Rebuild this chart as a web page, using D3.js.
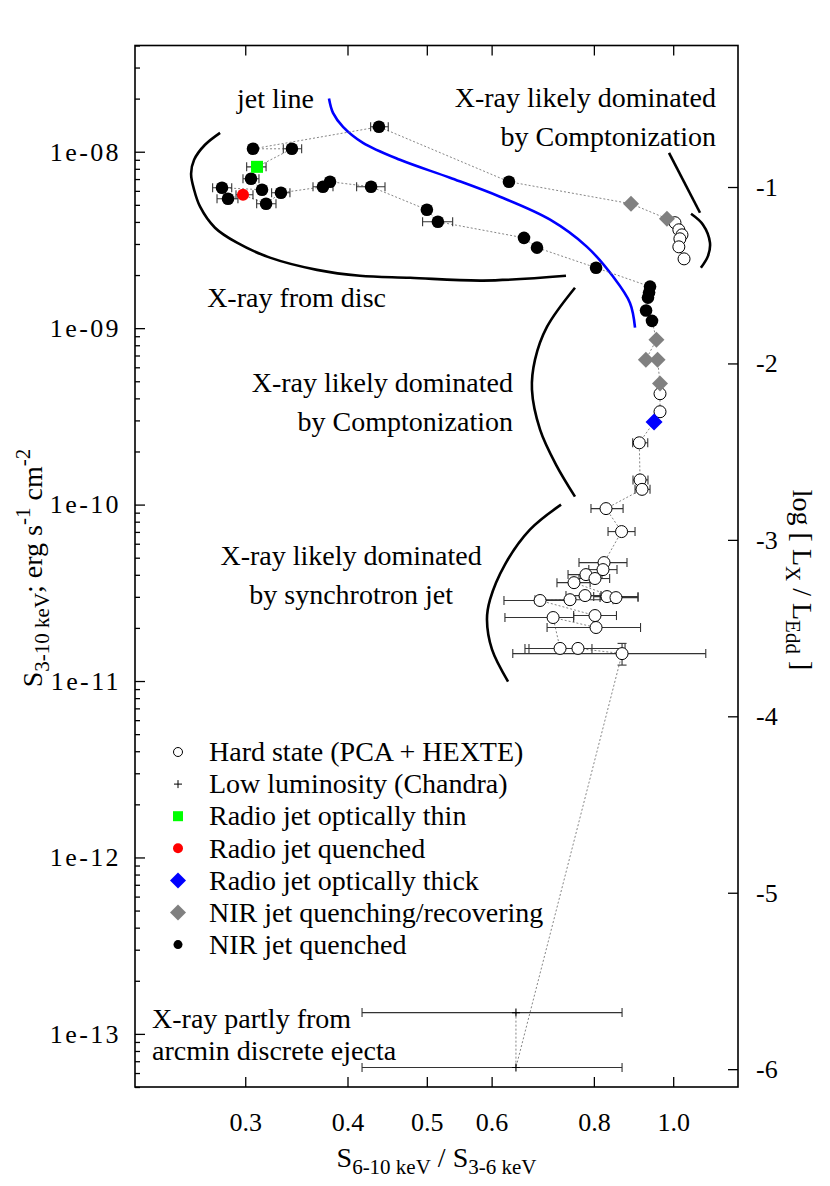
<!DOCTYPE html>
<html><head><meta charset="utf-8">
<script src="https://cdn.jsdelivr.net/npm/d3@7"></script>
<style>
body{margin:0;background:#fff}
svg text{font-family:"Liberation Serif","DejaVu Serif","Noto Serif","Times New Roman",Times,serif !important;fill:#000}
</style>
</head><body>
<svg id="chart" width="830" height="1186"></svg>
<script>
// ---------- data (hardness ratio S6-10/S3-6, flux S3-10 erg/s/cm2, [xlo, xhi], [ylo, yhi]) ----------
const xTicks = [0.3, 0.4, 0.5, 0.6, 0.8, 1.0];
const yTicks = [1e-8, 1e-9, 1e-10, 1e-11, 1e-12, 1e-13];
const y2Ticks = [-1, -2, -3, -4, -5, -6];

const hardState = [
  [1.005,3.96e-9],[1.016,3.61e-9],[1.025,3.38e-9],[1.019,3.21e-9],[1.016,2.89e-9],[1.031,2.47e-9],
  [0.9636,4.25e-10],[0.9636,3.36e-10],
  [0.909,2.24e-10,0.8923,0.9309],[0.911,1.38e-10,0.8931,0.9315],[0.916,1.22e-10,0.8982,0.9369],
  [0.8278,9.49e-11,0.7935,0.8685],[0.8648,7.03e-11,0.8325,0.8982],
  [0.8232,4.69e-11,0.7672,0.8781],[0.8208,4.28e-11,0.7887,0.8538],[0.7824,4.01e-11,0.7439,0.8185],
  [0.8025,3.81e-11,0.7672,0.8363],[0.7565,3.61e-11,0.7211,0.7916],[0.6876,2.86e-11,0.6212,0.7480],
  [0.7480,2.89e-11,0.6779,0.8443],[0.7804,3.05e-11,0.7396,0.8162],[0.8301,3.01e-11,0.7996,0.9058],
  [0.8513,2.97e-11,0.8140,0.9058],[0.7133,2.29e-11,0.6229,0.7558],[0.8025,2.35e-11,0.7558,0.8525],
  [0.8049,2.01e-11,0.7013,0.9122],[0.7274,1.53e-11,0.6590,0.7957],[0.7650,1.53e-11,0.6665,0.8733],
  [0.8660,1.43e-11,0.6368,1.096,1.231e-11,1.634e-11]
];
const lowLum = [[0.6425,1.32e-13,0.4167,0.866],[0.6425,6.45e-14,0.4167,0.866]];
const radioThin = [[0.3101,8.21e-9,0.3012,0.3181]];
const radioQuenched = [[0.2981,5.70e-9,0.2923,0.3066]];
const radioThick = [[0.9476,2.94e-10]];
const nirQuenching = [[0.888,5.07e-9],[0.9826,4.17e-9],[0.954,8.6e-10],[0.926,6.63e-10],[0.957,6.63e-10],[0.9636,4.85e-10]];
const nirQuenched = [
  [0.3066,1.039e-8],[0.3421,1.039e-8,0.3339,0.3516],[0.4370,1.384e-8,0.4269,0.4486],[0.6300,6.76e-9],
  [0.2810,6.25e-9,0.2737,0.2888],[0.2858,5.41e-9,0.2771,0.2939],[0.3049,7.03e-9,0.2981,0.3118],
  [0.3145,6.09e-9],[0.3181,5.07e-9,0.3098,0.3271],[0.3317,5.85e-9,0.3231,0.3402],
  [0.3733,6.33e-9,0.3630,0.3840],[0.3808,6.76e-9],[0.4274,6.33e-9,0.4104,0.4445],[0.5001,4.69e-9],
  [0.5158,4.01e-9,0.4941,0.5377],[0.6572,3.25e-9],[0.6817,2.86e-9],[0.8049,2.20e-9],
  [0.9369,1.72e-9],[0.9344,1.59e-9],[0.9315,1.49e-9],[0.9265,1.26e-9],[0.9421,1.10e-9]
];
// observation sequence (dotted track)
const track = [
  [0.6425,1.32e-13],[0.6425,6.45e-14],[0.8660,1.43e-11],[0.7650,1.53e-11],[0.7274,1.53e-11],
  [0.7133,2.29e-11],[0.8049,2.01e-11],[0.8025,2.35e-11],[0.6876,2.86e-11],[0.7480,2.89e-11],
  [0.7804,3.05e-11],[0.8301,3.01e-11],[0.8513,2.97e-11],[0.7565,3.61e-11],[0.7824,4.01e-11],
  [0.8025,3.81e-11],[0.8208,4.28e-11],[0.8232,4.69e-11],[0.8648,7.03e-11],[0.8278,9.49e-11],
  [0.916,1.22e-10],[0.911,1.38e-10],[0.909,2.24e-10],[0.9476,2.94e-10],[0.9636,3.36e-10],
  [0.9636,4.25e-10],[0.9636,4.85e-10],[0.957,6.63e-10],[0.926,6.63e-10],[0.954,8.6e-10],
  [0.9421,1.10e-9],[0.9265,1.26e-9],[0.9315,1.49e-9],[0.9344,1.59e-9],[0.9369,1.72e-9],
  [0.8049,2.20e-9],[0.6817,2.86e-9],[0.6572,3.25e-9],[0.5158,4.01e-9],[0.5001,4.69e-9],
  [0.4274,6.33e-9],[0.3808,6.76e-9],[0.3733,6.33e-9],[0.3317,5.85e-9],[0.3181,5.07e-9],
  [0.2981,5.70e-9],[0.2858,5.41e-9],[0.2810,6.25e-9],[0.3145,6.09e-9],[0.3049,7.03e-9],
  [0.3101,8.21e-9],[0.3421,1.039e-8],[0.3066,1.039e-8],[0.4370,1.384e-8],[0.6300,6.76e-9],
  [0.888,5.07e-9],[0.9826,4.17e-9],[1.005,3.96e-9],[1.016,3.61e-9],[1.025,3.38e-9],
  [1.019,3.21e-9],[1.016,2.89e-9],[1.031,2.47e-9]
];
// annotation curves
const jetLine = [[0.3797,2.0e-8],[0.3840,1.66e-8],[0.3950,1.384e-8],[0.4178,1.123e-8],[0.4636,9.0e-9],
  [0.5337,7.12e-9],[0.6142,5.56e-9],[0.7073,4.12e-9],[0.7847,2.89e-9],[0.8443,1.96e-9],[0.8855,1.39e-9],[0.8982,1.006e-9]];
const discArc = [[0.2795,1.28e-8],[0.2679,1.095e-8],[0.2598,9.0e-9],[0.2576,7.5e-9],[0.2598,6.09e-9],
  [0.2642,4.88e-9],[0.2755,3.71e-9],[0.2931,3.05e-9],[0.3216,2.51e-9],[0.3671,2.14e-9],[0.4142,1.98e-9],
  [0.4770,1.93e-9],[0.5855,1.86e-9],[0.7396,1.98e-9]];
const comptTopLine = [[0.9883,9.86e-9],[1.0784,4.51e-9]];
const comptTopArc = [[1.0515,4.45e-9],[1.0874,3.86e-9],[1.109,3.05e-9],[1.103,2.57e-9],[1.081,2.2e-9]];
const comptMidArc = [[0.7586,1.695e-9],[0.7013,1.019e-9],[0.6779,6.63e-10],[0.6721,4.48e-10],
  [0.6876,2.66e-10],[0.7193,1.68e-10],[0.7586,1.11e-10]];
const synchArc = [[0.7294,9.99e-11],[0.6683,7.21e-11],[0.6229,4.57e-11],[0.5973,2.89e-11],
  [0.5922,2.23e-11],[0.6006,1.51e-11],[0.6284,9.93e-12]];
const legendLabels = ["Hard state (PCA + HEXTE)","Low luminosity (Chandra)","Radio jet optically thin",
  "Radio jet quenched","Radio jet optically thick","NIR jet quenching/recovering","NIR jet quenched"];

// ---------- layout ----------
const FONT = '"Liberation Serif","DejaVu Serif","Noto Serif",serif';
const L = 135, R = 738, T = 45.5, B = 1087;
const svg = d3.select("#chart");
const x = d3.scaleLog().domain([0.22, 1.2]).range([L, R]);
const y = d3.scaleLog().domain([5e-14, 4e-8]).range([B, T]);
const off = 7.2;
const y2 = d3.scaleLinear().domain([Math.log10(5e-14)+off, Math.log10(4e-8)+off]).range([B, T]);
const FS = 28, TFS = 26, SFS = 21;

// axes
const yMinor = [];
for (let e = -14; e <= -8; e++) for (let k = 2; k <= 9; k++) { const v = k*Math.pow(10,e); if (v>=5e-14 && v<=4e-8) yMinor.push(v); }
const fmtY = d => { const e = Math.round(Math.log10(d)); return "1e-" + String(-e).padStart(2,"0"); };

const gl = svg.append("g").attr("transform",`translate(${L},0)`)
  .call(d3.axisLeft(y).tickValues(yTicks.concat(yMinor)).tickSizeInner(-10).tickSizeOuter(0).tickPadding(14)
    .tickFormat(d => yTicks.includes(d) ? fmtY(d) : ""));
gl.selectAll(".tick").filter(d => !yTicks.includes(d)).select("line").attr("x2", 5);

const gr = svg.append("g").attr("transform",`translate(${R},0)`)
  .call(d3.axisRight(y2).tickValues(y2Ticks).tickSizeInner(-10).tickSizeOuter(0).tickPadding(18)
    .tickFormat(d => String(d)));
const gb = svg.append("g").attr("transform",`translate(0,${B})`)
  .call(d3.axisBottom(x).tickValues(xTicks).tickSizeInner(-10).tickSizeOuter(0).tickPadding(26)
    .tickFormat(d3.format(".1f")));
const gt = svg.append("g").attr("transform",`translate(0,${T})`)
  .call(d3.axisTop(x).tickValues(xTicks).tickSizeInner(-10).tickSizeOuter(0).tickFormat(""));
svg.selectAll("g").attr("font-family", FONT);
svg.selectAll(".domain").remove();
svg.selectAll(".tick line").attr("stroke","#000").attr("stroke-width",1.3);
svg.selectAll(".tick text").attr("font-size",TFS).attr("fill","#000");
gl.selectAll(".tick text").attr("letter-spacing", 2.4);
svg.append("rect").attr("x",L).attr("y",T).attr("width",R-L).attr("height",B-T)
  .attr("fill","none").attr("stroke","#000").attr("stroke-width",1.6);

// axis titles
const yt = svg.append("text").attr("transform",`translate(42,${568}) rotate(-90)`)
  .attr("text-anchor","middle").attr("font-size",FS);
yt.append("tspan").text("S");
yt.append("tspan").attr("dy",7).attr("font-size",SFS).text("3-10 keV");
yt.append("tspan").attr("dy",-7).text("; erg s");
yt.append("tspan").attr("dy",-12).attr("font-size",SFS).text("-1");
yt.append("tspan").attr("dy",12).text(" cm");
yt.append("tspan").attr("dy",-12).attr("font-size",SFS).text("-2");

const xt = svg.append("text").attr("x",(L+R)/2).attr("y",1167).attr("text-anchor","middle").attr("font-size",FS);
xt.append("tspan").text("S");
xt.append("tspan").attr("dy",7).attr("font-size",SFS).text("6-10 keV");
xt.append("tspan").attr("dy",-7).text(" / S");
xt.append("tspan").attr("dy",7).attr("font-size",SFS).text("3-6 keV");

const rt = svg.append("text").attr("transform",`translate(793,${580}) rotate(90)`)
  .attr("text-anchor","middle").attr("font-size",FS);
rt.append("tspan").text("log [ L");
rt.append("tspan").attr("dy",7).attr("font-size",SFS).text("X");
rt.append("tspan").attr("dy",-7).text(" / L");
rt.append("tspan").attr("dy",7).attr("font-size",SFS).text("Edd");
rt.append("tspan").attr("dy",-7).text(" ]");

// plot clip
svg.append("clipPath").attr("id","clip").append("rect").attr("x",L).attr("y",T).attr("width",R-L).attr("height",B-T);
const plot = svg.append("g").attr("clip-path","url(#clip)");

const line = d3.line().x(d => x(d[0])).y(d => y(d[1]));
const curve = d3.line().x(d => x(d[0])).y(d => y(d[1])).curve(d3.curveCatmullRom.alpha(0.5));

// annotation curves
[discArc, comptTopArc, comptMidArc, synchArc].forEach(c =>
  plot.append("path").attr("d", curve(c)).attr("fill","none").attr("stroke","#000").attr("stroke-width",2.6));
plot.append("path").attr("d", line(comptTopLine)).attr("fill","none").attr("stroke","#000").attr("stroke-width",2.6);
plot.append("path").attr("d", curve(jetLine)).attr("fill","none").attr("stroke","#0000ff").attr("stroke-width",2.6);

// dotted track
plot.append("path").attr("d", line(track)).attr("fill","none").attr("stroke","#777")
  .attr("stroke-width",0.9).attr("stroke-dasharray","2,2");

// error bars
function errBars(data, cap) {
  data.filter(d => d.length >= 4).forEach(d => {
    const g = plot.append("g").attr("stroke","#333").attr("stroke-width",1.1);
    const yy = y(d[1]);
    g.append("line").attr("x1",x(d[2])).attr("x2",x(d[3])).attr("y1",yy).attr("y2",yy);
    g.append("line").attr("x1",x(d[2])).attr("x2",x(d[2])).attr("y1",yy-cap).attr("y2",yy+cap);
    g.append("line").attr("x1",x(d[3])).attr("x2",x(d[3])).attr("y1",yy-cap).attr("y2",yy+cap);
    if (d.length >= 6) {
      const xx = x(d[0]);
      g.append("line").attr("x1",xx).attr("x2",xx).attr("y1",y(d[4])).attr("y2",y(d[5]));
      g.append("line").attr("x1",xx-cap).attr("x2",xx+cap).attr("y1",y(d[4])).attr("y2",y(d[4]));
      g.append("line").attr("x1",xx-cap).attr("x2",xx+cap).attr("y1",y(d[5])).attr("y2",y(d[5]));
    }
  });
}
[hardState, nirQuenched, radioThin, radioQuenched, lowLum].forEach(s => errBars(s, 4.5));

// markers
const diamond = (s) => `M0,${-s}L${s},0L0,${s}L${-s},0Z`;
plot.selectAll(".hs").data(hardState).join("circle").attr("cx",d=>x(d[0])).attr("cy",d=>y(d[1])).attr("r",6)
  .attr("fill","#fff").attr("stroke","#000").attr("stroke-width",1);
plot.selectAll(".ll").data(lowLum).join("path")
  .attr("d",d=>`M${x(d[0])-4},${y(d[1])}h8M${x(d[0])},${y(d[1])-4}v8`).attr("stroke","#000").attr("stroke-width",1.1);
plot.selectAll(".nq").data(nirQuenching).join("path").attr("transform",d=>`translate(${x(d[0])},${y(d[1])})`)
  .attr("d",diamond(8)).attr("fill","#808080");
plot.selectAll(".nd").data(nirQuenched).join("circle").attr("cx",d=>x(d[0])).attr("cy",d=>y(d[1])).attr("r",6.3).attr("fill","#000");
plot.selectAll(".rq").data(radioQuenched).join("circle").attr("cx",d=>x(d[0])).attr("cy",d=>y(d[1])).attr("r",6).attr("fill","#ff0000");
plot.selectAll(".rt").data(radioThin).join("rect").attr("x",d=>x(d[0])-6).attr("y",d=>y(d[1])-6)
  .attr("width",12).attr("height",12).attr("fill","#00ff00");
plot.selectAll(".rk").data(radioThick).join("path").attr("transform",d=>`translate(${x(d[0])},${y(d[1])})`)
  .attr("d",diamond(8.5)).attr("fill","#0000ff");

// annotation texts
function label(lines, xv, yv, anchor, color, gap) {
  const t = svg.append("text").attr("x",x(xv)).attr("y",y(yv)).attr("text-anchor",anchor)
    .attr("font-size",FS).attr("fill",color||"#000");
  lines.forEach((s,i) => t.append("tspan").attr("x",x(xv)).attr("dy", i===0?0:(gap||39)).text(s));
}
label(["jet line"], 0.2931, 1.775e-8, "start", "#0000ff");
label(["X-ray likely dominated","by Comptonization"], 1.128, 1.80e-8, "end");
label(["X-ray from disc"], 0.2695, 1.32e-9, "start");
label(["X-ray likely dominated","by Comptonization"], 0.6372, 4.37e-10, "end");
label(["X-ray likely dominated","by synchrotron jet"], 0.4041, 4.57e-11, "middle");
label(["X-ray partly from","arcmin discrete ejecta"], 0.2308, 1.08e-13, "start", null, 32);

// legend
const lg = svg.append("g");
const ly0 = 752, ldy = 32.1, lx = 178;
legendLabels.forEach((s,i) => {
  const cy = ly0 + i*ldy;
  const g = lg.append("g").attr("transform",`translate(${lx},${cy})`);
  if (i===0) g.append("circle").attr("r",4.5).attr("fill","#fff").attr("stroke","#000");
  if (i===1) g.append("path").attr("d","M-4,0h8M0,-4v8").attr("stroke","#000");
  if (i===2) g.append("rect").attr("x",-5).attr("y",-5).attr("width",10).attr("height",10).attr("fill","#00ff00");
  if (i===3) g.append("circle").attr("r",5).attr("fill","#ff0000");
  if (i===4) g.append("path").attr("d",diamond(8)).attr("fill","#0000ff");
  if (i===5) g.append("path").attr("d",diamond(8)).attr("fill","#808080");
  if (i===6) g.append("circle").attr("r",4.5).attr("fill","#000");
  lg.append("text").attr("x",209).attr("y",cy).attr("dy","0.33em").attr("font-size",FS).text(s);
});
svg.selectAll("text").attr("font-family", FONT).style("font-family", FONT);
</script>
</body></html>
